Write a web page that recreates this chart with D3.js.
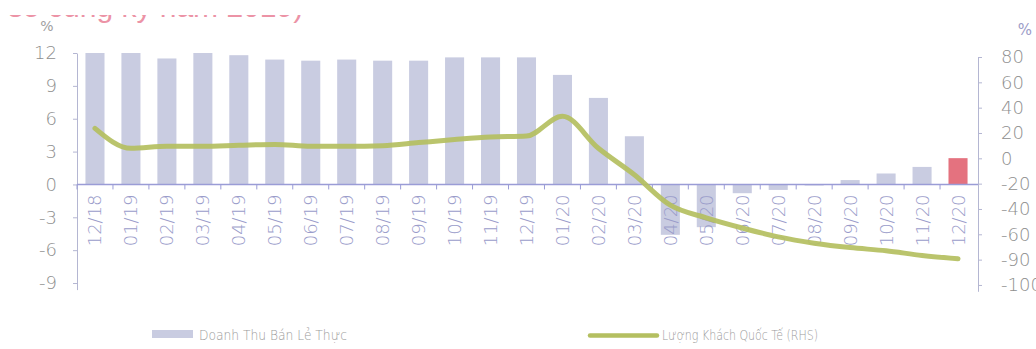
<!DOCTYPE html>
<html><head><meta charset="utf-8">
<script src="https://cdn.jsdelivr.net/npm/d3@7"></script>
<style>
body{margin:0;background:#fff;}
svg{display:block;font-family:"DejaVu Sans",sans-serif;}
</style></head><body>
<svg id="c" width="1036" height="349"></svg>
<script>
const categories = ["12/18","01/19","02/19","03/19","04/19","05/19","06/19","07/19","08/19","09/19","10/19","11/19","12/19","01/20","02/20","03/20","04/20","05/20","06/20","07/20","08/20","09/20","10/20","11/20","12/20"];
const retailSales = [12.0,12.0,11.5,12.0,11.8,11.4,11.3,11.4,11.3,11.3,11.6,11.6,11.6,10.0,7.9,4.4,-4.6,-3.9,-0.8,-0.5,-0.1,0.4,1.0,1.6,2.4];
const intlArrivals = [23.7,7.9,9.5,9.5,10.3,11.0,9.5,9.5,10.0,12.4,14.8,16.8,17.6,33.2,7.9,-13.0,-37.0,-47.0,-55.0,-62.0,-67.0,-70.5,-73.0,-76.7,-79.3];
const leftTicks = [12,9,6,3,0,-3,-6,-9];
const leftTickLabels = ["12","9","6","3","0","-3","-6","-9"];
const rightTicks = [80,60,40,20,0,-20,-40,-60,-80,-100];
const rightTickLabels = ["80","60","40","20","0","-20","-40","-60","-90","-100"];
const legendLabels = ["Doanh Thu Bán Lẻ Thực","Lượng Khách Quốc Tế (RHS)"];
const titleText = "so cùng kỳ năm 2019)";
const unitLabel = "%";

const svg = d3.select("#c");
const barColor = "#c9cce1", hiColor = "#e4727f", lineColor = "#b4bf60";
const tickText = "#8e8e8e", axisColor = "#b4b6d2";

// title: only its lower edge shows, as in the source crop
svg.append("text").attr("x",8).attr("y",17)
  .attr("font-size",30).attr("font-family","'Liberation Sans',sans-serif").attr("fill","#ec93a6").text(titleText);
svg.append("rect").attr("x",0).attr("y",0).attr("width",1036).attr("height",15).attr("fill","#fff");

const x = d3.scaleBand().domain(categories).range([77,976]).paddingInner(0.47).paddingOuter(0.235);
const yL = d3.scaleLinear().domain([-9.6,12]).range([289.6,53]);
const yR = d3.scaleLinear().domain([-105,80]).range([291.3,57]);

// unit labels
svg.append("text").attr("x",47).attr("y",31).attr("text-anchor","middle").attr("font-size",14).attr("fill","#a0a0a0").text(unitLabel);
svg.append("text").attr("x",1025).attr("y",35).attr("text-anchor","middle").attr("font-size",15).attr("fill","#9c9cc8").text(unitLabel);

// bars
svg.append("g").selectAll("rect").data(categories).join("rect")
  .attr("x",c=>x(c))
  .attr("width",x.bandwidth())
  .attr("y",(c,i)=>yL(Math.max(0,retailSales[i])))
  .attr("height",(c,i)=>Math.abs(yL(retailSales[i])-yL(0)))
  .attr("fill",(c,i)=>i===categories.length-1?hiColor:barColor);

// left axis
const gL = svg.append("g").attr("transform","translate(77,0)")
  .call(d3.axisLeft(yL).tickValues(leftTicks).tickFormat((d,i)=>leftTickLabels[i]).tickSize(4).tickSizeOuter(0).tickPadding(16));
gL.select(".domain").attr("stroke",axisColor);
gL.selectAll(".tick line").attr("stroke",axisColor);
gL.selectAll(".tick text").attr("font-size",18).attr("fill",tickText).attr("font-family","DejaVu Sans").attr("font-weight",200);

// right axis
const gR = svg.append("g").attr("transform","translate(978,0)")
  .call(d3.axisRight(yR).tickValues(rightTicks).tickFormat((d,i)=>rightTickLabels[i]).tickSize(4).tickSizeOuter(0).tickPadding(19));
gR.select(".domain").attr("stroke",axisColor);
gR.selectAll(".tick line").attr("stroke",axisColor);
gR.selectAll(".tick text").attr("font-size",18).attr("fill",tickText).attr("font-family","DejaVu Sans").attr("font-weight",200);

// x axis
const y0 = yL(0);
const gX = svg.append("g").attr("transform",`translate(0,${y0})`)
  .call(d3.axisBottom(x).tickSize(0).tickSizeOuter(0).tickPadding(0));
gX.select(".domain").remove();
gX.selectAll(".tick text")
  .attr("transform","rotate(-90)")
  .attr("text-anchor","end")
  .attr("x",-10).attr("y",0).attr("dy","0.36em")
  .attr("font-size",18).attr("font-weight",200).attr("font-family","DejaVu Sans")
  .attr("fill","#9a9cca");
svg.append("line").attr("x1",77).attr("x2",978).attr("y1",y0).attr("y2",y0).attr("stroke","#9a9cd6").attr("stroke-width",1.5);
const gap = (x.step()-x.bandwidth())/2;
const bounds = categories.map(c=>x(c)-gap);
svg.append("g").selectAll("line").data(bounds).join("line")
  .attr("x1",d=>d).attr("x2",d=>d).attr("y1",y0).attr("y2",y0+5).attr("stroke","#9a9cd6");

// line
const line = d3.line().x((d,i)=>x(categories[i])+x.bandwidth()/2).y(d=>yR(d)).curve(d3.curveMonotoneX);
svg.append("path").datum(intlArrivals).attr("d",line).attr("fill","none")
  .attr("stroke",lineColor).attr("stroke-width",5).attr("stroke-linecap","round").attr("stroke-linejoin","round").attr("opacity",0.92);

// legend
const lg = svg.append("g").attr("font-size",14).attr("font-family","'DejaVu Sans',sans-serif").attr("font-weight",200).attr("fill","#9a9a9a");
lg.append("rect").attr("x",152).attr("y",330).attr("width",41).attr("height",8).attr("fill",barColor);
lg.append("text").attr("x",199).attr("y",340).attr("textLength",148).attr("lengthAdjust","spacingAndGlyphs").text(legendLabels[0]);
lg.append("line").attr("x1",590).attr("x2",657).attr("y1",335.5).attr("y2",335.5).attr("stroke",lineColor).attr("stroke-width",4.5).attr("stroke-linecap","round");
lg.append("text").attr("x",662).attr("y",340).attr("textLength",156).attr("lengthAdjust","spacingAndGlyphs").text(legendLabels[1]);
</script>
</body></html>
